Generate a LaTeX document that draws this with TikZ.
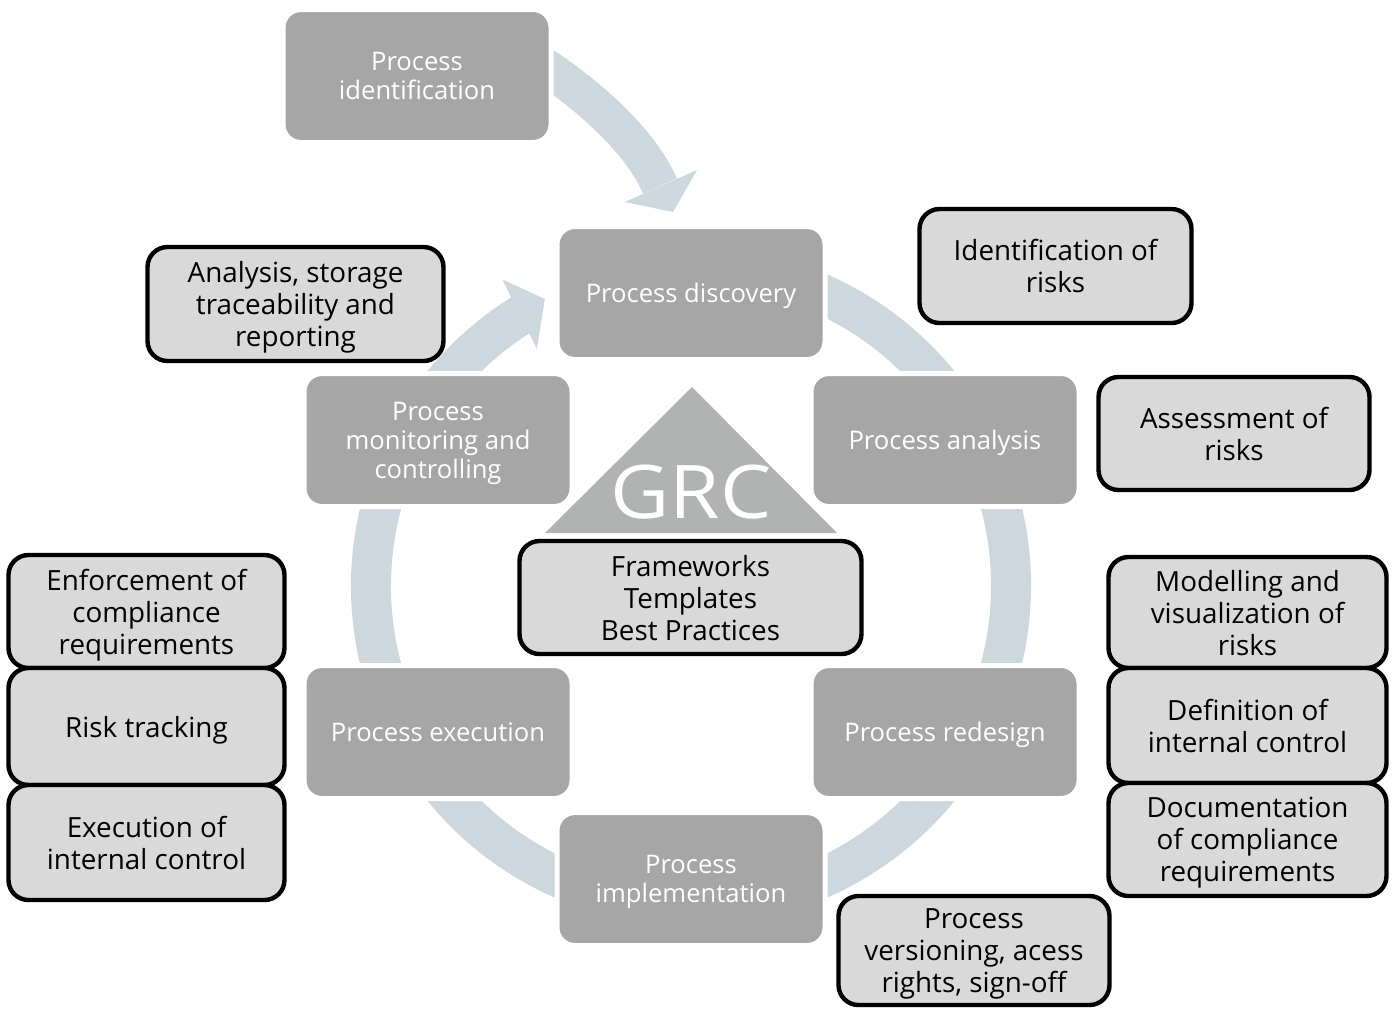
\documentclass[tikz,border=0pt]{standalone}
\usepackage{fontspec}
\setmainfont{Open Sans}
\newfontfamily\grcfont[FakeStretch=1.1]{Open Sans}
\usepackage{tikz}
\usetikzlibrary{positioning,calc,backgrounds}
\definecolor{procgray}{HTML}{A6A6A6}
\definecolor{infogray}{HTML}{D9D9D9}
\definecolor{ringblue}{HTML}{CCD7DE}
\definecolor{grcgray}{HTML}{B0B3B2}
\tikzset{
  proc/.style  = {rectangle, draw=white, line width=2.5pt, fill=procgray,
                  rounded corners=9pt, minimum width=134pt, minimum height=66.5pt,
                  inner sep=0pt, align=center, text=white, text depth=0pt,
                  font=\fontsize{12.8pt}{14.5pt}\selectfont},
  info/.style  = {rectangle, draw=black, line width=2.2pt, fill=infogray,
                  rounded corners=10pt, minimum width=136pt, minimum height=57pt,
                  inner sep=0pt, align=center, text depth=0pt,
                  font=\fontsize{13.9pt}{16pt}\selectfont},
  grc/.style   = {text=white, inner sep=0pt, font=\grcfont\fontsize{37pt}{40pt}\selectfont},
  ring/.style  = {draw=ringblue, line width=20pt},
  flow/.style  = {draw=ringblue, line width=18.5pt},
  head/.style  = {fill=ringblue},
}

\begin{document}
\begin{tikzpicture}[x=0.5pt, y=-0.5pt]
\useasboundingbox (0,0) rectangle (1392,1009);

%% ── Cycle stages ──────────────────────────────────────────────────────────
\node[proc] (ident) at (417,76)  {Process\\identification};
\node[proc] (disc)  at (691,293) {Process discovery};
\node[proc] (anal)  at (945,440) {Process analysis};
\node[proc] (redes) at (945,732) {Process redesign};
\node[proc] (impl)  at (691,879) {Process\\implementation};
\node[proc] (exec)  at (438,732) {Process execution};
\node[proc] (monit) at (438,440) {Process\\monitoring and\\controlling};

%% ── GRC core ──────────────────────────────────────────────────────────────
\fill[grcgray] (692,387) -- (837,533) -- (545,533) -- cycle;
\node[grc] (grc) at (691,492) {GRC};
\node[info, minimum width=171pt, minimum height=56.5pt]
  (frame) at (690.5,597.5) {Frameworks\\Templates\\Best Practices};

%% ── GRC tasks ─────────────────────────────────────────────────────────────
\node[info, minimum width=148pt] (report) at (295.5,304)
  {Analysis, storage\\traceability and\\reporting};
\node[info] (riskid) at (1055.5,266) {Identification of\\risks};
\node[info, minimum width=135.5pt, minimum height=56.5pt] (assess) at (1234,433.5)
  {Assessment of\\risks};

\node[info, minimum width=138pt, minimum height=56.5pt] (enforce) at (146.5,611.5)
  {Enforcement of\\compliance\\requirements};
\node[info, minimum width=138pt, minimum height=58.5pt, below=-2.2pt of enforce]
  (track) {Risk tracking};
\node[info, minimum width=138pt, minimum height=57.5pt, below=-2.2pt of track]
  (execint) {Execution of\\internal control};

\node[info, minimum width=139pt, minimum height=55.5pt] (model) at (1247.5,612.5)
  {Modelling and\\visualization of\\risks};
\node[info, minimum width=139pt, minimum height=57.5pt, below=-2.2pt of model]
  (defin) {Definition of\\internal control};
\node[info, minimum width=139pt, minimum height=56.5pt, below=-2.2pt of defin]
  (docum) {Documentation\\of compliance\\requirements};

\node[info, minimum width=135.5pt, minimum height=54.5pt] (version) at (974,950.5)
  {Process\\versioning, acess\\rights, sign-off};

%% ── Ring and arrows (behind the stages) ───────────────────────────────────
\begin{scope}[on background layer]
  \fill[white] (0,0) rectangle (1392,1009);
  \coordinate (hub) at ($(disc)!0.5!(impl)$);
  \draw[ring] ([shift={(-121.5:320)}]hub) arc[start angle=-121.5, end angle=-430, radius=320];
  \fill[head] ([shift={(-121.6:360)}]hub) -- ([shift={(-117:322)}]hub)
              -- ([shift={(-123:283)}]hub) -- cycle;

  \draw[flow] ([shift={(113,-19)}]ident.center)
    .. controls +(55,34) and +(-20,-46) .. ([shift={(-31,-107)}]disc.center);
  \fill[head] ([shift={(6,-123)}]disc.center) -- ([shift={(-18,-81)}]disc.center)
              -- ([shift={(-66,-91)}]disc.center) -- cycle;
\end{scope}

\end{tikzpicture}
\end{document}
